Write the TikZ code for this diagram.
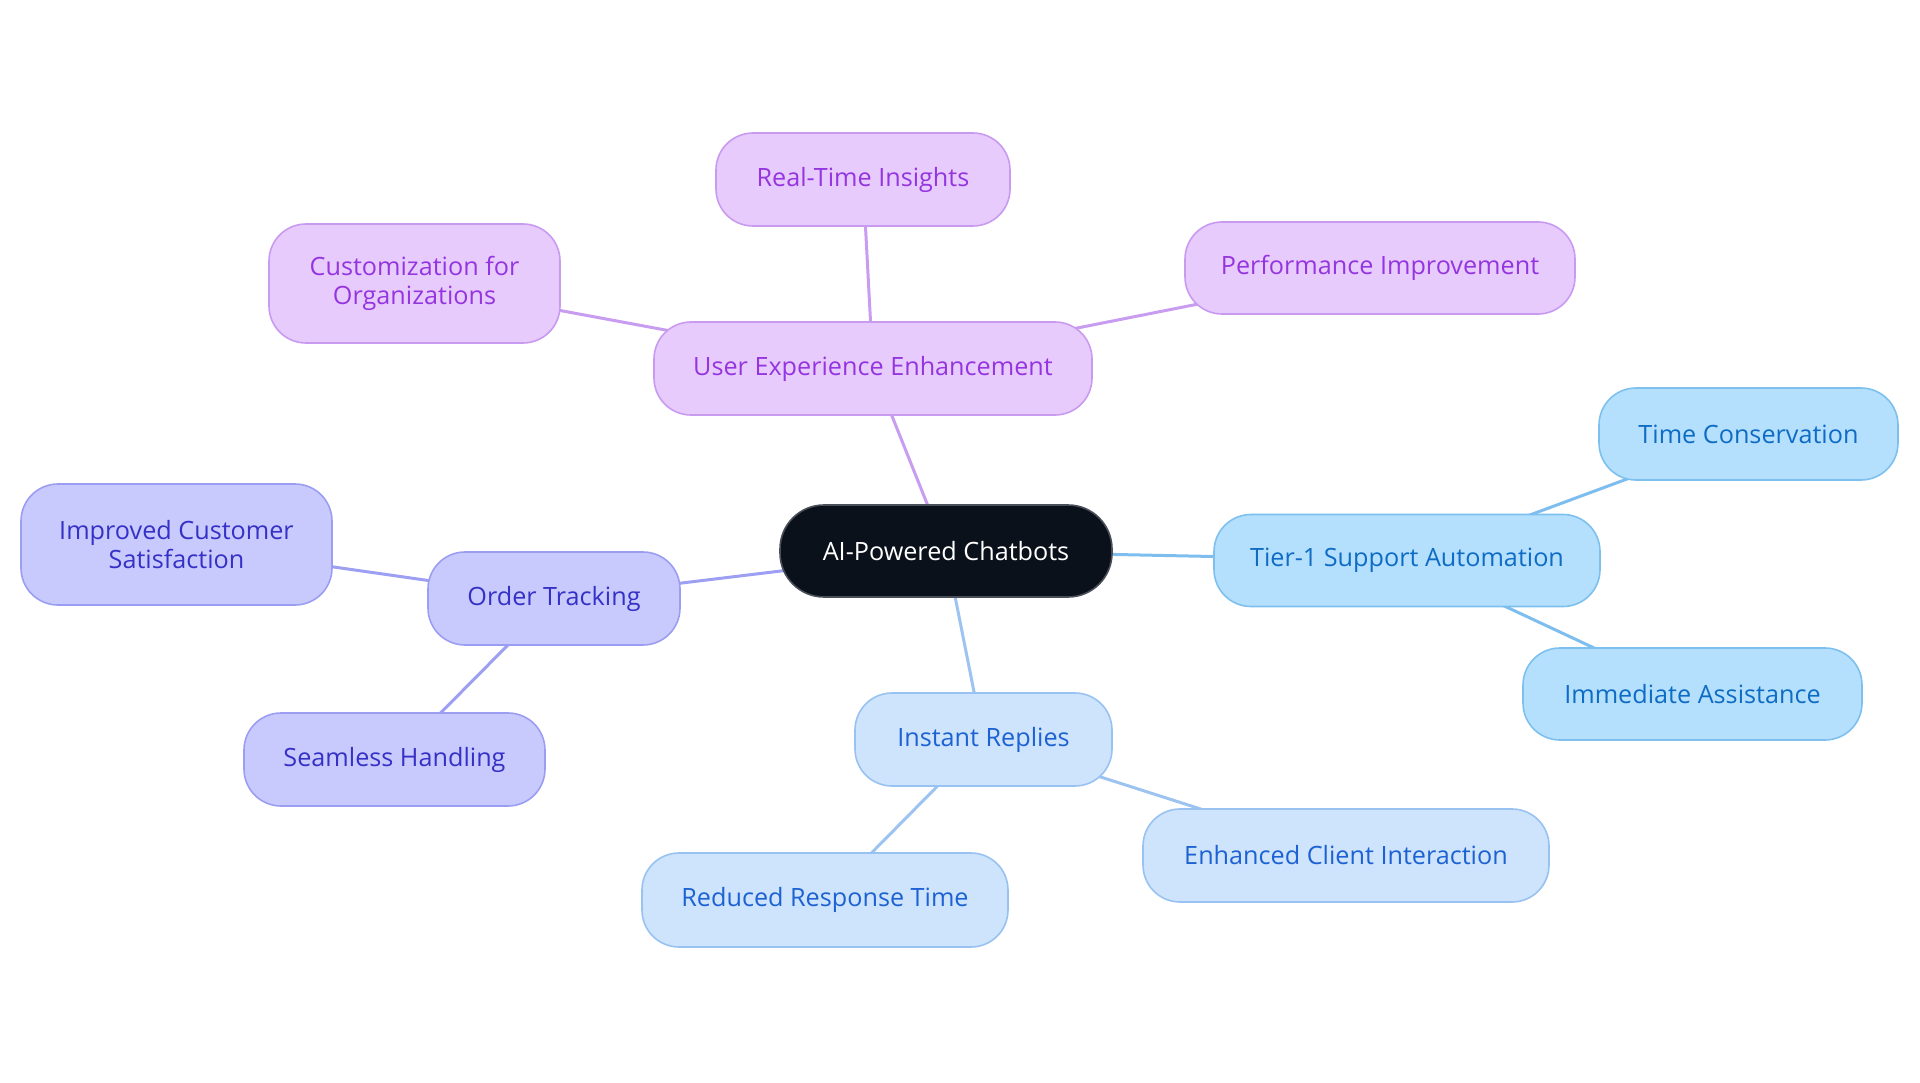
\documentclass[tikz,border=0pt]{standalone}
\usepackage{fontspec}
\setmainfont{Open Sans}
\usetikzlibrary{backgrounds}
\definecolor{pfill}{HTML}{E8CBFD}
\definecolor{pdraw}{HTML}{C89AF0}
\definecolor{ptext}{HTML}{9435DF}
\definecolor{pedge}{HTML}{C79CF1}
\definecolor{bfill}{HTML}{B4E0FE}
\definecolor{bdraw}{HTML}{7DC0EE}
\definecolor{btext}{HTML}{0F6CC4}
\definecolor{bedge}{HTML}{7DBEEE}
\definecolor{lfill}{HTML}{C8CAFE}
\definecolor{ldraw}{HTML}{9B9DF2}
\definecolor{ltext}{HTML}{3631C6}
\definecolor{ledge}{HTML}{9C9FF2}
\definecolor{sfill}{HTML}{CEE3FC}
\definecolor{sdraw}{HTML}{98C2F1}
\definecolor{stext}{HTML}{1D62D3}
\definecolor{sedge}{HTML}{9DC4F0}
\definecolor{cfill}{HTML}{0B111B}
\definecolor{cdraw}{HTML}{4A4F58}
\tikzset{
  box/.style={rectangle, rounded corners=37, line width=1.6, inner sep=0pt, align=center,
    font=\fontsize{25.2}{28.5}\selectfont},
  purplebox/.style={box, fill=pfill, draw=pdraw, text=ptext},
  bluebox/.style={box, fill=bfill, draw=bdraw, text=btext},
  lavbox/.style={box, fill=lfill, draw=ldraw, text=ltext},
  skybox/.style={box, fill=sfill, draw=sdraw, text=stext},
  centralbox/.style={box, rounded corners=44, fill=cfill, draw=cdraw, text=white},
  link/.style={line width=3}
}
\begin{document}
\begin{tikzpicture}[x=1pt,y=-1pt]
\useasboundingbox (0,0) rectangle (1920,1083);
\node[centralbox, minimum width=332, minimum height=92] (c) at (946,551) {AI-Powered Chatbots};
\node[purplebox, minimum width=438, minimum height=93] (uxe) at (873,368.5) {User Experience Enhancement};
\node[purplebox, minimum width=294, minimum height=93] (rti) at (863,179.5) {Real-Time Insights};
\node[purplebox, minimum width=291, minimum height=119] (cust) at (414.5,283.5) {Customization for\\Organizations};
\node[purplebox, minimum width=390, minimum height=92] (perf) at (1380,268) {Performance Improvement};
\node[bluebox, minimum width=386, minimum height=92] (tier) at (1407,560.5) {Tier-1 Support Automation};
\node[bluebox, minimum width=299, minimum height=92] (timec) at (1748.5,434) {Time Conservation};
\node[bluebox, minimum width=339, minimum height=92] (immed) at (1692.5,694) {Immediate Assistance};
\node[skybox, minimum width=257, minimum height=93] (inst) at (983.5,739.5) {Instant Replies};
\node[skybox, minimum width=406, minimum height=93] (enh) at (1346,855.5) {Enhanced Client Interaction};
\node[skybox, minimum width=366, minimum height=94] (red) at (825,900) {Reduced Response Time};
\node[lavbox, minimum width=252, minimum height=93] (order) at (554,598.5) {Order Tracking};
\node[lavbox, minimum width=311, minimum height=121] (impr) at (176.5,544.5) {Improved Customer\\Satisfaction};
\node[lavbox, minimum width=301, minimum height=93] (seam) at (394.5,759.5) {Seamless Handling};
\begin{scope}[on background layer]
\draw[link, pedge] (c.center) -- (uxe.center);
\draw[link, pedge] (uxe.center) -- (rti.center);
\draw[link, pedge] (uxe.center) -- (cust.center);
\draw[link, pedge] (uxe.center) -- (perf.center);
\draw[link, bedge] (c.center) -- (tier.center);
\draw[link, bedge] (tier.center) -- (timec.center);
\draw[link, bedge] (tier.center) -- (immed.center);
\draw[link, sedge] (c.center) -- (inst.center);
\draw[link, sedge] (inst.center) -- (enh.center);
\draw[link, sedge] (inst.center) -- (red.center);
\draw[link, ledge] (c.center) -- (order.center);
\draw[link, ledge] (order.center) -- (impr.center);
\draw[link, ledge] (order.center) -- (seam.center);
\end{scope}
\end{tikzpicture}
\end{document}
